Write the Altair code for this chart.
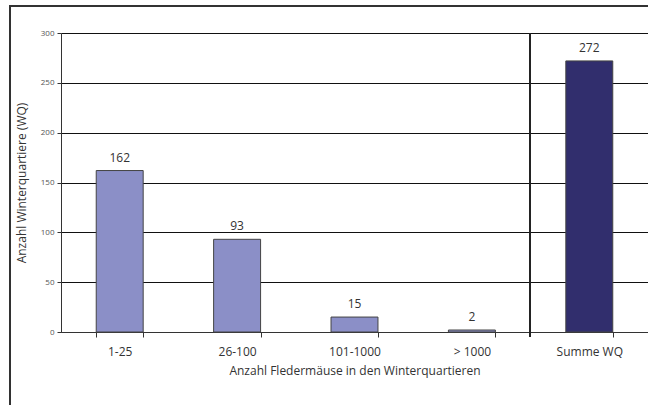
import altair as alt
import pandas as pd

categories = ["1-25", "26-100", "101-1000", "> 1000", "Summe WQ"]
values = [162, 93, 15, 2, 272]
colors = ["#8b8fc7", "#8b8fc7", "#8b8fc7", "#8b8fc7", "#312e6d"]

df = pd.DataFrame({"cat": categories, "val": values, "col": colors})

FONT = "Open Sans"

x = alt.X("cat:N", sort=categories,
          scale=alt.Scale(paddingInner=0.6, paddingOuter=0.3),
          axis=alt.Axis(title="Anzahl Fledermäuse in den Winterquartieren",
                        labelAngle=0, labelFontSize=12, labelColor="#333",
                        labelFont=FONT, labelPadding=9,
                        titleFont=FONT, titleFontSize=12, titleColor="#333",
                        titleFontWeight="normal", titlePadding=8,
                        tickSize=5, tickColor="#333", tickBand="extent",
                        domainColor="#333", grid=False))
y = alt.Y("val:Q", scale=alt.Scale(domain=[0, 300], nice=False),
          axis=alt.Axis(title="Anzahl Winterquartiere (WQ)", values=[0, 50, 100, 150, 200, 250, 300],
                        labelFontSize=8, labelColor="#555", labelFont=FONT, labelPadding=3,
                        titleFont=FONT, titleFontSize=12, titleColor="#333",
                        titleFontWeight="normal", titlePadding=12,
                        tickSize=4, tickColor="#333", domainColor="#333",
                        grid=True, gridColor="#111", gridWidth=1))

bars = alt.Chart(df).mark_bar(stroke="#444", strokeWidth=1).encode(
    x=x, y=y, color=alt.Color("col:N", scale=None))

labels = alt.Chart(df).mark_text(dy=-13, fontSize=12, font=FONT, color="#333").encode(
    x=alt.X("cat:N", sort=categories), y="val:Q", text="val:Q")

sep = alt.Chart(df).mark_rule(color="#222", strokeWidth=1.2).encode(
    x=alt.value(469), y=alt.value(0), y2=alt.value(304))

border = alt.Chart(df).mark_rect(fill=None, stroke="#333", strokeWidth=1.5).encode(
    x=alt.value(-51), x2=alt.value(620), y=alt.value(-27), y2=alt.value(420))

chart = alt.layer(border, bars, labels, sep).properties(
    width=587, height=299,
    autosize=alt.AutoSizeParams(type="none"),
    padding={"left": 61, "top": 33, "right": 0, "bottom": 73},
).configure_view(stroke="#bbb", strokeWidth=1).configure(background="white")

chart.save("out.html", embed_options={"renderer": "svg", "actions": False})
